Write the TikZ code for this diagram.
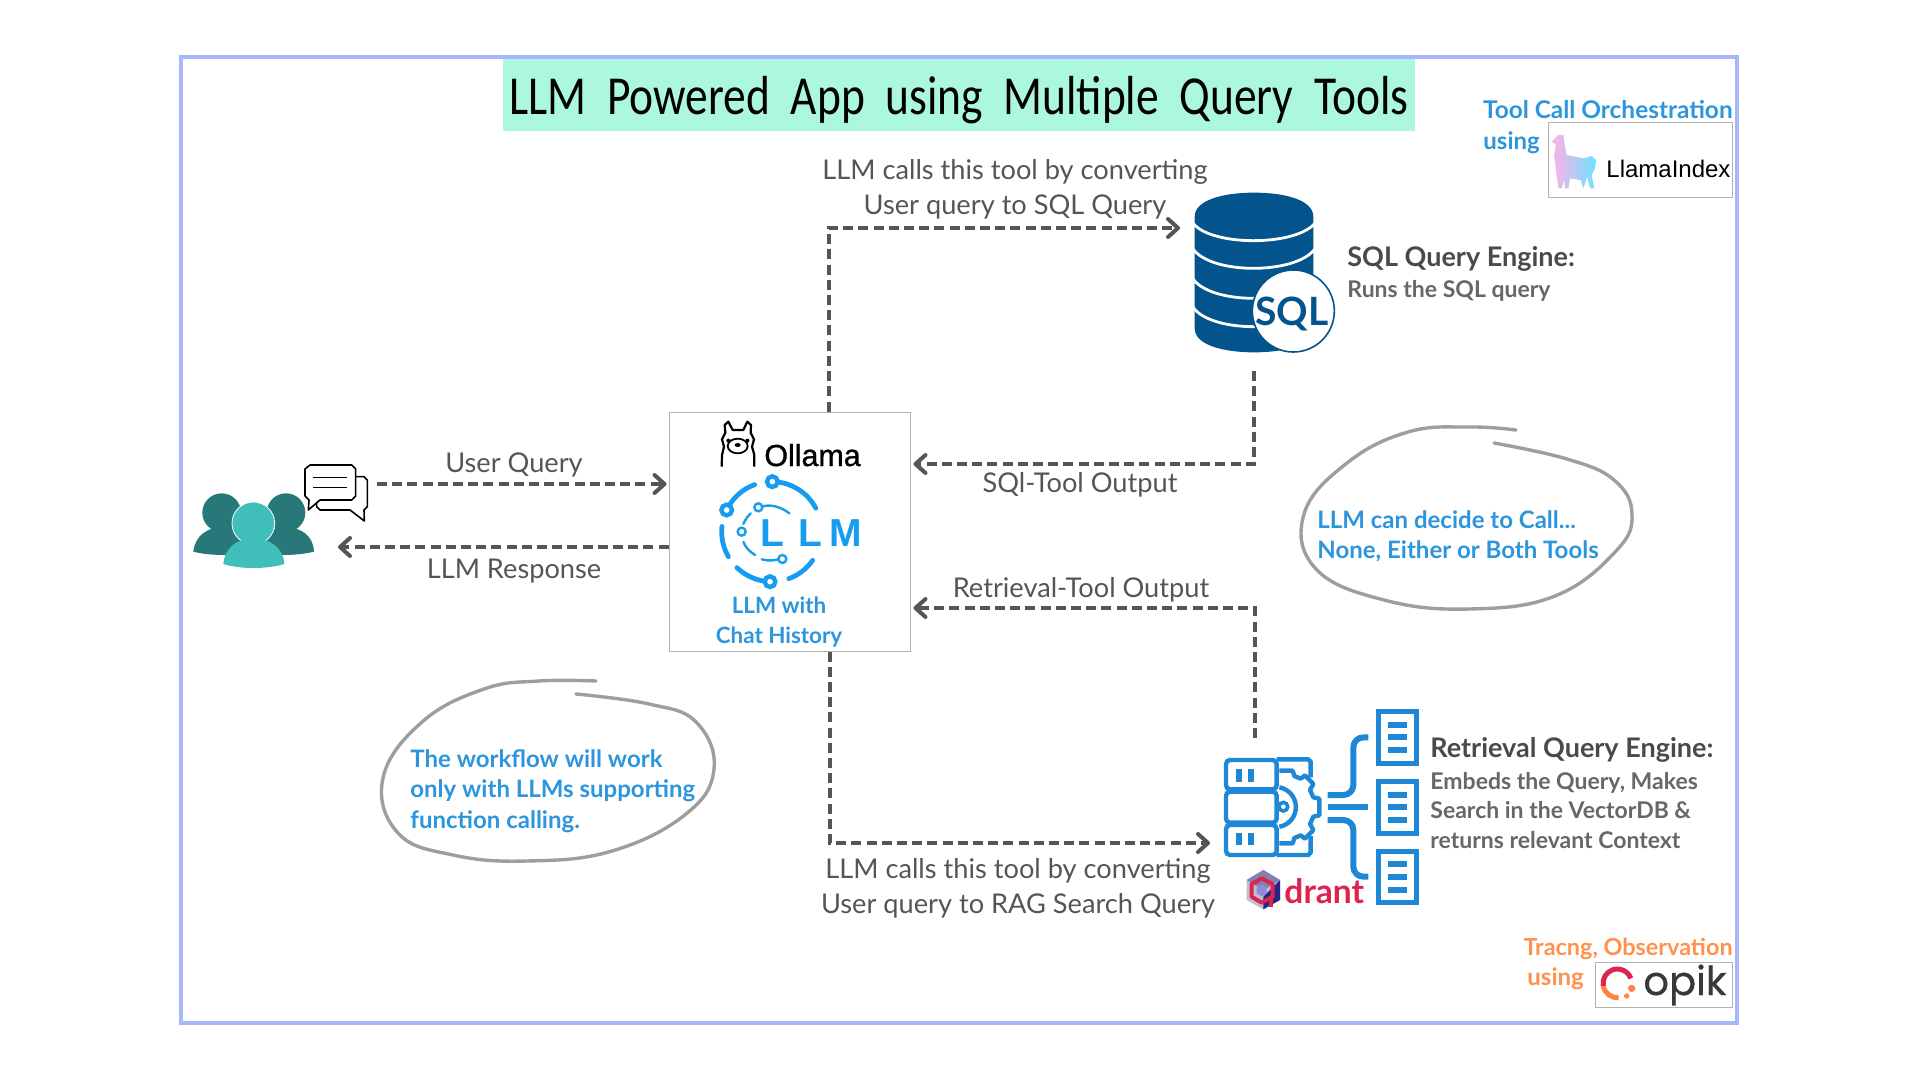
\documentclass[tikz,border=0pt]{standalone}
\usepackage{fontspec}
\usepackage{graphicx}
\usetikzlibrary{arrows.meta}
\setmainfont{Lato}
\newfontfamily\titlefont{Carlito}
\newfontfamily\logofont{Liberation Sans}
\newfontfamily\ollamafont[FakeBold=1]{Liberation Sans}
\newfontfamily\opikfont[FakeBold=0.5]{Poppins}
\definecolor{framecol}{HTML}{A6B8FA}
\definecolor{mintcol}{HTML}{ABF8DE}
\definecolor{labelcol}{HTML}{555555}
\definecolor{headcol}{HTML}{4A4A4A}
\definecolor{desccol}{HTML}{676767}
\definecolor{notecol}{HTML}{2D95DC}
\definecolor{orangecol}{HTML}{FF914D}
\definecolor{logocol}{HTML}{189CF0}
\definecolor{sqlcol}{HTML}{03538D}
\definecolor{ragcol}{HTML}{1E88D6}
\definecolor{qdrantcol}{HTML}{DC244C}
\definecolor{tealdark}{HTML}{28787A}
\definecolor{teallight}{HTML}{40BFBA}
\definecolor{llamapink}{HTML}{FFB0E6}
\definecolor{llamacyan}{HTML}{6FE3FF}
\tikzset{
  flow/.style={line width=2pt,draw=labelcol,dash pattern=on 5pt off 2.6pt,-{Straight Barb[length=5pt,width=9pt,round]}},
  labeltext/.style={inner sep=0pt,text=labelcol,align=center,font=\fontsize{13.6}{17.5}\selectfont},
  headtext/.style={inner sep=0pt,anchor=base west,text=headcol,font=\bfseries\fontsize{13.5}{14}\selectfont},
  desctext/.style={inner sep=0pt,anchor=north west,align=left,text=desccol,font=\bfseries\fontsize{11.5}{14.7}\selectfont},
  notetext/.style={inner sep=0pt,anchor=north west,align=left,text=notecol,font=\bfseries\fontsize{12}{15.3}\selectfont},
  logobox/.style={draw=black!30,line width=.5pt,inner sep=0pt},
  cloud/.style={draw=black!38,line width=1.7pt,line cap=round},
  icon/.style={x=.16667pt,y=-.16667pt},
}
\begin{document}
\begin{tikzpicture}[x=.5pt,y=-.5pt]
\useasboundingbox (0,0) rectangle (1920,1080);
\draw[framecol,line width=2.2pt] (181,57) rectangle (1737,1023);
% title
\node[fill=mintcol,minimum width=456pt,minimum height=36pt,inner sep=0pt] (titlebar) at (959,95) {};
\node[inner sep=0pt,font=\titlefont\fontsize{25}{28}\selectfont] (title) at (959,100) {\scalebox{.91}[1.1]{LLM\ \ Powered\ \ App\ \ using\ \ Multiple\ \ Query\ \ Tools}};
% users and chat
\begin{scope}[shift={(180,450)},icon]
\fill[tealdark] (125,188) circle (58);
\fill[tealdark] (40,305) .. controls (45,255) and (85,232) .. (125,232) .. controls (165,232) and (210,255) .. (215,305) .. controls (160,318) and (90,318) .. cycle;
\fill[tealdark] (318,188) circle (58);
\fill[tealdark] (230,305) .. controls (235,255) and (275,232) .. (318,232) .. controls (360,232) and (400,255) .. (402,305) .. controls (350,318) and (280,318) .. cycle;
\fill[teallight,draw=white,line width=.4pt] (220,220) circle (64);
\fill[teallight] (130,342) .. controls (135,290) and (175,265) .. (220,265) .. controls (265,265) and (310,290) .. (313,342) .. controls (260,358) and (180,358) .. cycle;
\draw[black,line width=.8pt,line join=round,fill=white] (527,80) -- (552,80) -- (562,90) -- (562,170) -- (552,180) -- (553,213) -- (510,180) -- (420,180) -- (410,170) -- (410,150) -- cycle;
\draw[black,line width=.8pt,line join=round,fill=white] (390,45) -- (515,45) -- (527,57) -- (527,138) -- (515,150) -- (420,150) -- (385,180) -- (387,150) -- (375,138) -- (375,57) -- cycle;
\draw[black,line width=.8pt] (400,82) -- (500,82);
\draw[black,line width=.8pt] (400,112) -- (500,112);
\end{scope}
\coordinate (chatout) at (377,484);
\coordinate (chatin) at (338,547);
% llm box
\node[logobox,minimum width=120.5pt,minimum height=119.5pt] (llmbox) at (789.5,531.5) {};
\begin{scope}[shift={(660,400)},icon]
\draw[black,line width=1.1pt,line join=round] (185,200) -- (186,165) -- (192,140) -- (186,118) -- (196,98) -- (194,75) -- (205,65) -- (218,90) -- (250,90) -- (262,65) -- (273,75) -- (272,98) -- (282,118) -- (276,140) -- (283,165) -- (283,200);
\draw[black,line width=.9pt] (233,138) ellipse (30 and 22);
\fill[black] (205,122) circle (6);
\fill[black] (262,122) circle (6);
\fill[black] (233,135) ellipse (9 and 6);
\draw[logocol,line width=2.4pt,line cap=round] (335,395) ++(-89:150) arc[start angle=-89,end angle=-28,radius=150];
\draw[logocol,line width=2.4pt,line cap=round] (335,395) ++(250:150) arc[start angle=250,end angle=206,radius=150];
\draw[logocol,line width=2.4pt,line cap=round] (335,395) ++(186:150) arc[start angle=186,end angle=150,radius=150];
\draw[logocol,line width=2.4pt,line cap=round] (335,395) ++(134:150) arc[start angle=134,end angle=92,radius=150];
\draw[logocol,line width=2.4pt,line cap=round] (335,395) ++(70:150) arc[start angle=70,end angle=35,radius=150];
\draw[logocol,line width=2.2pt,fill=white] (337,245) circle (16);
\draw[logocol,line width=2.2pt,fill=white] (200,330) circle (16);
\draw[logocol,line width=2.2pt,fill=white] (330,545) circle (16);
\draw[logocol,line width=1.2pt,line cap=round] (308,319) .. controls (335,312) and (365,322) .. (388,340);
\draw[logocol,line width=1.2pt,line cap=round] (272,340) .. controls (262,350) and (255,360) .. (250,372);
\draw[logocol,line width=1.2pt,line cap=round] (250,425) .. controls (255,440) and (268,455) .. (285,465);
\draw[logocol,line width=1.2pt,line cap=round] (305,478) .. controls (322,483) and (340,482) .. (355,478);
\draw[logocol,line width=1.2pt,fill=white] (295,322) circle (12);
\draw[logocol,line width=1.2pt,fill=white] (245,395) circle (12);
\draw[logocol,line width=1.2pt,fill=white] (367,477) circle (12);
\end{scope}
\node[inner sep=0pt,anchor=base west,font=\ollamafont\fontsize{15.2}{17}\selectfont] (ollama) at (764,466) {Ollama};
\node[inner sep=0pt,anchor=base west,text=logocol,font=\logofont\bfseries\fontsize{19.5}{20}\selectfont] (llmmark) at (760,546) {L\hspace{7pt}L\hspace{3.5pt}M};
\node[notetext,anchor=center,align=center,text=notecol,font=\bfseries\fontsize{11.2}{14.6}\selectfont] (llmname) at (779,622) {LLM with\\Chat History};
% sql engine
\begin{scope}[shift={(1180,180)},icon]
\fill[sqlcol] (44,110) .. controls (44,60) and (130,38) .. (222,38) .. controls (315,38) and (400,60) .. (400,110) -- (400,445) .. controls (400,495) and (315,517) .. (222,517) .. controls (130,517) and (44,495) .. (44,445) -- cycle;
\draw[white,line width=1.4pt] (38,128) .. controls (90,200) and (350,200) .. (406,128);
\draw[white,line width=1.4pt] (38,205) .. controls (90,285) and (350,285) .. (406,205);
\draw[white,line width=1.4pt] (38,295) .. controls (90,375) and (350,375) .. (406,295);
\draw[white,line width=1.4pt] (38,380) .. controls (90,460) and (350,460) .. (406,380);
\draw[sqlcol,line width=.8pt,fill=white] (340,393) circle (123);
\end{scope}
\node[inner sep=0pt,text=sqlcol,font=\bfseries\fontsize{19.5}{22}\selectfont] (sqlmark) at (1292,314) {SQL};
\coordinate (sqlturn) at (829,228);
\coordinate (sqlin) at (1180,228);
\coordinate (sqlout) at (1254,371);
\coordinate (sqlback) at (913,464);
\node[headtext] (sqlhead) at (1347,266.5) {SQL Query Engine:};
\node[desctext] (sqldesc) at (1347,280) {Runs the SQL query};
% retrieval engine
\begin{scope}[shift={(1200,700)},icon]
\draw[ragcol,line width=2.2pt,rounded corners=2pt] (78,180) rectangle (230,268);
\draw[ragcol,line width=2.2pt,rounded corners=2pt] (78,275) rectangle (230,368);
\draw[ragcol,line width=2.2pt,rounded corners=2pt] (78,375) rectangle (230,465);
\fill[ragcol] (107,207) rectangle (125,245);
\fill[ragcol] (145,207) rectangle (163,245);
\fill[ragcol] (107,398) rectangle (125,435);
\fill[ragcol] (145,398) rectangle (163,435);
\draw[ragcol,line width=2.2pt,line join=round] (230,178) -- (325,178) -- (332,185) -- (332,232);
\draw[ragcol,line width=2.2pt,line join=round] (230,465) -- (325,465) -- (332,458) -- (332,408);
\draw[ragcol,line width=2.2pt,line join=round] (238,212) -- (278,212) -- (283,228) -- (302,236) -- (315,226) -- (340,252) -- (330,270) -- (340,292) -- (358,296) -- (358,346) -- (340,350) -- (330,372) -- (340,390) -- (315,416) -- (302,406) -- (283,414) -- (278,430) -- (238,430);
\draw[ragcol,line width=2.2pt] (238,262) arc[start angle=-80,end angle=80,radius=60];
\draw[ragcol,line width=1.8pt] (250,320) circle (13);
\draw[ragcol,line width=3pt,rounded corners=5pt] (383,285) -- (460,285) -- (460,112) -- (505,112);
\draw[ragcol,line width=3pt] (383,322) -- (505,322);
\draw[ragcol,line width=3pt,rounded corners=5pt] (383,360) -- (460,360) -- (460,530) -- (505,530);
\draw[ragcol,line width=2.6pt] (535,35) rectangle (650,190);
\draw[ragcol,line width=2.6pt] (535,245) rectangle (650,400);
\draw[ragcol,line width=2.6pt] (535,455) rectangle (650,607);
\draw[ragcol,line width=3pt] (565,75) -- (620,75) (565,112) -- (620,112) (565,150) -- (620,150);
\draw[ragcol,line width=3pt] (565,285) -- (620,285) (565,322) -- (620,322) (565,360) -- (620,360);
\draw[ragcol,line width=3pt] (565,493) -- (620,493) (565,532) -- (620,532) (565,570) -- (620,570);
% qdrant cube
\fill[blue!30!black!25!white] (190,510) -- (240,540) -- (240,600) -- (190,628) -- (140,600) -- (140,540) -- cycle;
\fill[blue!45!black!85] (240,540) -- (240,600) -- (190,628) -- (190,590) -- cycle;
\fill[blue!40!black!50] (190,510) -- (240,540) -- (190,570) -- (140,540) -- cycle;
\draw[qdrantcol,line width=2pt,line join=round] (185,535) -- (218,552) -- (218,590) -- (185,608) -- (155,590) -- (155,552) -- cycle;
\draw[qdrantcol,line width=2pt] (212,590) -- (212,622);
\fill[black!35!blue!45] (185,553) -- (200,562) -- (200,580) -- (185,589) -- (170,580) -- (170,562) -- cycle;
\end{scope}
\node[inner sep=0pt,anchor=base west,text=qdrantcol,font=\bfseries\fontsize{16.8}{18}\selectfont] (drant) at (1284,903) {drant};
\coordinate (retout) at (1255,738);
\coordinate (retback) at (913,608);
\coordinate (ragturn) at (830,843);
\coordinate (ragin) at (1210,843);
\node[headtext] (rethead) at (1430,757.5) {Retrieval Query Engine:};
\node[desctext] (retdesc) at (1430,772) {Embeds the Query, Makes\\Search in the VectorDB \&\\returns relevant Context};
% flow arrows
\draw[flow,shorten >=1pt] (chatout) -- (llmbox.west |- chatout);
\draw[flow] (llmbox.west |- chatin) -- (chatin);
\draw[flow] (llmbox.north -| sqlturn) -- (sqlturn) -- (sqlin);
\draw[flow,shorten >=1.5pt] (sqlout) |- (llmbox.east |- sqlback);
\draw[flow,shorten >=1.5pt] (retout) |- (llmbox.east |- retback);
\draw[flow] (llmbox.south -| ragturn) -- (ragturn) -- (ragin);
% flow labels
\node[labeltext] (querylabel) at (514,465) {User Query};
\node[labeltext] (replylabel) at (514,571) {LLM Response};
\node[labeltext] (sqlcall) at (1015,189) {LLM calls this tool by converting\\User query to SQL Query};
\node[labeltext] (sqllabel) at (1080,485) {SQl-Tool Output};
\node[labeltext] (retlabel) at (1081,590) {Retrieval-Tool Output};
\node[labeltext] (ragcall) at (1018,888) {LLM calls this tool by converting\\User query to RAG Search Query};
% notes
\draw[cloud] plot[smooth,tension=.7] coordinates {(1516,430) (1469,427) (1408,432) (1347,463) (1304,514) (1316,569) (1384,600) (1469,609) (1555,596) (1616,551) (1632,514) (1614,480) (1567,459) (1494,443)};
\node[notetext] (decidenote) at (1317,510) {LLM can decide to Call...\\None, Either or Both Tools};
\draw[cloud] plot[smooth,tension=.7] coordinates {(596,681) (539,681) (484,689) (422,722) (383,778) (398,833) (453,855) (527,861) (612,851) (686,814) (714,769) (696,722) (649,704) (576,694)};
\node[notetext] (worknote) at (410,749) {The workflow will work\\only with LLMs supporting\\function calling.};
% llamaindex
\node[notetext,anchor=base east,font=\bfseries\fontsize{12.2}{14}\selectfont] (orchnote) at (1733,119) {Tool Call Orchestration};
\node[notetext,anchor=base west] (orchusing) at (1483,150) {using};
\node[logobox,minimum width=92pt,minimum height=37.5pt] (llamabox) at (1640,160.5) {};
\begin{scope}[shift={(1450,80)},icon]
\shade[left color=llamapink,right color=llamacyan] (305,185) -- (325,165) -- (340,165) -- (345,200) -- (350,225) -- (400,235) -- (425,228) -- (438,240) -- (435,265) -- (425,285) -- (433,325) -- (420,325) -- (412,290) -- (400,325) -- (392,300) -- (360,295) -- (355,325) -- (345,325) -- (342,300) -- (335,325) -- (325,325) -- (318,270) -- (312,225) -- (318,195) -- cycle;
\end{scope}
\node[inner sep=0pt,anchor=base west,font=\logofont\fontsize{12}{14}\selectfont] (llamaname) at (1606,178) {LlamaIndex};
% opik
\node[notetext,anchor=base east,text=orangecol,font=\bfseries\fontsize{11.7}{14}\selectfont] (tracenote) at (1733,955) {Tracng, Observation};
\node[notetext,anchor=base west,text=orangecol] (traceusing) at (1527,985) {using};
\node[logobox,minimum width=68.5pt,minimum height=22.5pt] (opikbox) at (1663.5,984.5) {};
\begin{scope}[shift={(1500,920)},icon]
\draw[orangecol!90!red,line width=2.5pt] (352,190) ++(-190:43) arc[start angle=-190,end angle=-275,radius=43];
\draw[qdrantcol,line width=2.5pt] (352,190) ++(-20:43) arc[start angle=-20,end angle=-190,radius=43];
\fill[orangecol!90!red] (395,205) circle (11);
\fill[orangecol!90!red] (380,228) circle (8);
\end{scope}
\node[inner sep=0pt,anchor=base west,text=black!78,font=\opikfont\fontsize{20}{22}\selectfont] (opikname) at (1643,995) {opik};
\end{tikzpicture}
\end{document}
